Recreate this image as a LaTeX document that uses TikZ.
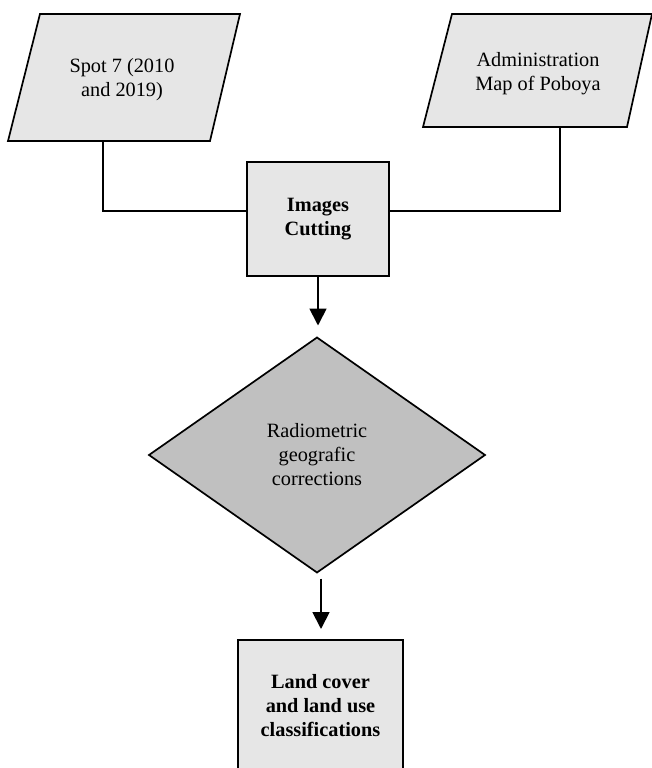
\documentclass[tikz,border=0pt]{standalone}
\usepackage{fontspec}
\setmainfont{Liberation Serif}
\usetikzlibrary{shapes.geometric,arrows.meta}
\definecolor{boxgray}{HTML}{E6E6E6}
\definecolor{diagray}{HTML}{C0C0C0}
\begin{document}
\begin{tikzpicture}[x=1pt,y=1pt,
  every node/.style={font=\fontsize{20.3}{24}\selectfont, align=center, inner sep=0pt, outer sep=0pt},
  para/.style={draw, line width=1.7pt, fill=boxgray, line join=miter},
  procbox/.style={draw, line width=1.7pt, fill=boxgray, font=\fontsize{20.3}{24}\selectfont\bfseries},
  dec/.style={draw, line width=1.7pt, fill=diagray, shape=diamond},
  link/.style={line width=1.7pt},
  arr/.style={line width=1.8pt, -{Triangle[width=17pt,length=17pt]}}]
\useasboundingbox (0,0) rectangle (652,-768);
\clip (0,0) rectangle (652,-768);
% source parallelograms
\coordinate (spotbl) at (8,-141);
\coordinate (spotbr) at (210,-141);
\draw[para] (40,-14) -- (240,-14) -- (spotbr) -- (spotbl) -- cycle;
\node (spot) at (122,-80) {Spot 7 (2010\\and 2019)};
\coordinate (adminbl) at (423,-127);
\coordinate (adminbr) at (627,-127);
\draw[para] (452,-14) -- (652,-14) -- (adminbr) -- (adminbl) -- cycle;
\node (admin) at (538,-74) {Administration\\Map of Poboya};
% processing box
\node[procbox, minimum width=142, minimum height=114] (cut) at (318,-219) {Images\\Cutting};
% decision diamond
\node[dec, minimum width=336, minimum height=235, aspect=1.43] (rad) at (317,-455)
  {Radiometric\\geografic\\corrections};
% final box
\node[procbox, minimum width=165, minimum height=132] (land) at (320.5,-706)
  {Land cover\\and land use\\classifications};
% connectors
\coordinate (jl) at (103,-211);
\coordinate (jr) at (560,-211);
\coordinate (ax) at (321,0);
\draw[link] (spotbl -| jl) -- (jl) -- (jl -| cut.west);
\draw[link] (adminbl -| jr) -- (jr) -- (jr -| cut.east);
\draw[arr] (cut.south) -- ([yshift=12]rad.north -| cut.south);
\draw[arr] ([yshift=-6]rad.south -| ax) -- ([yshift=11]land.north -| ax);
\end{tikzpicture}
\end{document}
